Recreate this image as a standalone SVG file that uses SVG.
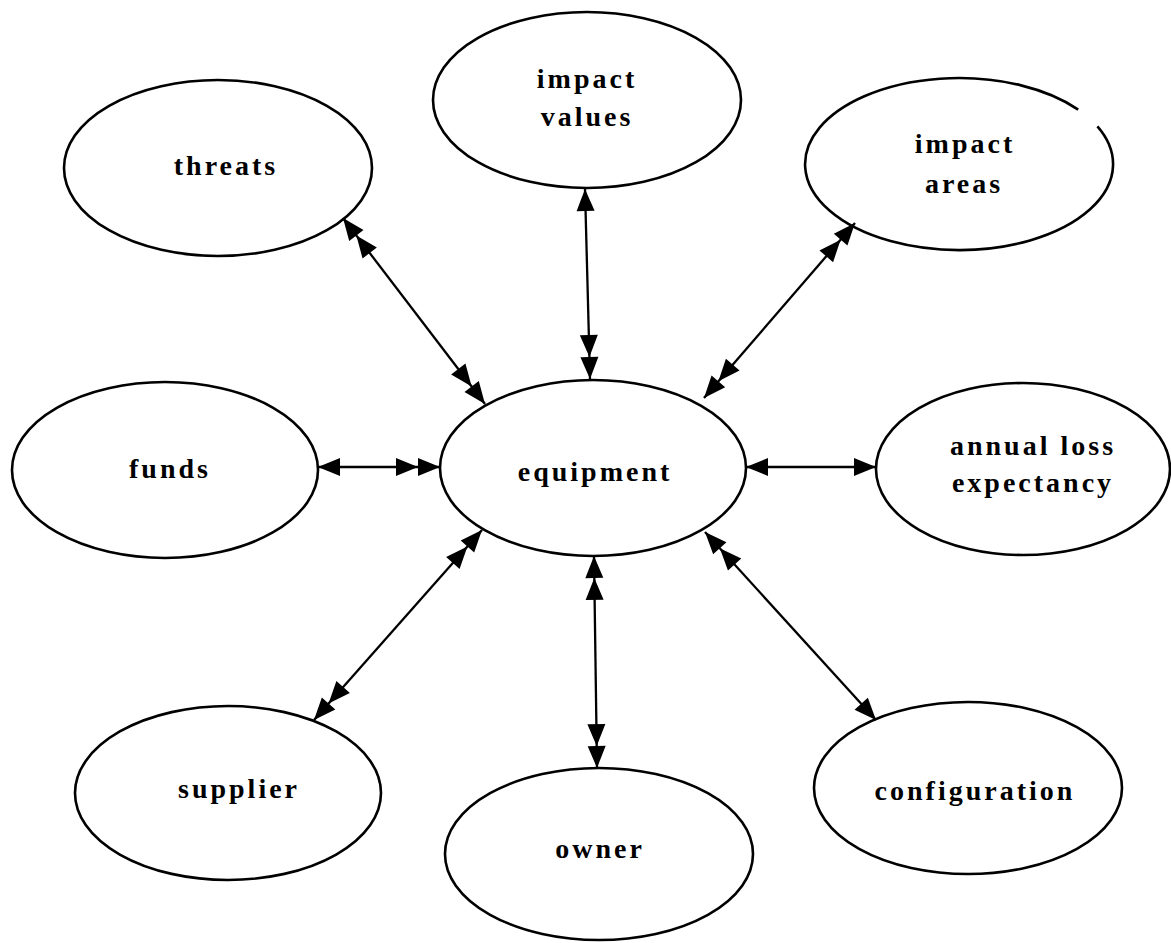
<svg xmlns="http://www.w3.org/2000/svg" width="1171" height="943" viewBox="0 0 1171 943">
<style>
.n ellipse,.n path{fill:#fff;stroke:#000;stroke-width:2.6}
.n text{font-family:"Liberation Serif",serif;font-size:28px;font-weight:bold;letter-spacing:3px;text-anchor:middle;fill:#000}
.c line{stroke:#000;stroke-width:2.3}
</style>
<defs>
<marker id="a1" markerUnits="userSpaceOnUse" viewBox="-2 -12 28 24" refX="22" refY="0" markerWidth="28" markerHeight="24" orient="auto-start-reverse" overflow="visible">
<path d="M0,-9 L22,0 L0,9 z" fill="#000"/>
</marker>
<marker id="a2" markerUnits="userSpaceOnUse" viewBox="-2 -12 48 24" refX="44" refY="0" markerWidth="48" markerHeight="24" orient="auto-start-reverse" overflow="visible">
<path d="M0,-9 L22,0 L0,9 z M22,-9 L44,0 L22,9 z" fill="#000"/>
</marker>
</defs>
<rect width="1171" height="943" fill="#fff"/>
<g id="threats" class="n"><ellipse cx="218" cy="168" rx="154" ry="88"/><text x="226" y="175">threats</text></g>
<g id="impact-values" class="n"><ellipse cx="587" cy="100" rx="154" ry="88"/><text x="587" y="88">impact</text><text x="587" y="126">values</text></g>
<g id="impact-areas" class="n"><path d="M1097.4,126.3 A154,86 0 1,1 1078.2,109.6"/><text x="965" y="153">impact</text><text x="964" y="193">areas</text></g>
<g id="funds" class="n"><ellipse cx="165" cy="470" rx="153" ry="88"/><text x="170" y="478">funds</text></g>
<g id="equipment" class="n"><ellipse cx="593" cy="468" rx="153" ry="88"/><text x="595" y="481">equipment</text></g>
<g id="annual-loss-expectancy" class="n"><ellipse cx="1023" cy="469" rx="147" ry="86"/><text x="1033" y="455">annual loss</text><text x="1033" y="492">expectancy</text></g>
<g id="supplier" class="n"><ellipse cx="228" cy="793" rx="153" ry="87"/><text x="239" y="798">supplier</text></g>
<g id="owner" class="n"><ellipse cx="599" cy="854" rx="154" ry="86"/><text x="600" y="858">owner</text></g>
<g id="configuration" class="n"><ellipse cx="968" cy="788" rx="154" ry="86"/><text x="975" y="800">configuration</text></g>
<g id="connectors" class="c">
<line x1="343" y1="218" x2="485" y2="404" marker-start="url(#a2)" marker-end="url(#a2)"/>
<line x1="585" y1="189" x2="590" y2="379" marker-start="url(#a1)" marker-end="url(#a2)"/>
<line x1="855" y1="223" x2="704" y2="398" marker-start="url(#a2)" marker-end="url(#a2)"/>
<line x1="318" y1="467" x2="440" y2="467" marker-start="url(#a1)" marker-end="url(#a2)"/>
<line x1="746" y1="467" x2="876" y2="467" marker-start="url(#a1)" marker-end="url(#a1)"/>
<line x1="482" y1="530" x2="314" y2="720" marker-start="url(#a2)" marker-end="url(#a2)"/>
<line x1="594" y1="556" x2="597" y2="768" marker-start="url(#a2)" marker-end="url(#a2)"/>
<line x1="705" y1="532" x2="876" y2="720" marker-start="url(#a2)" marker-end="url(#a1)"/>
</g>
</svg>
